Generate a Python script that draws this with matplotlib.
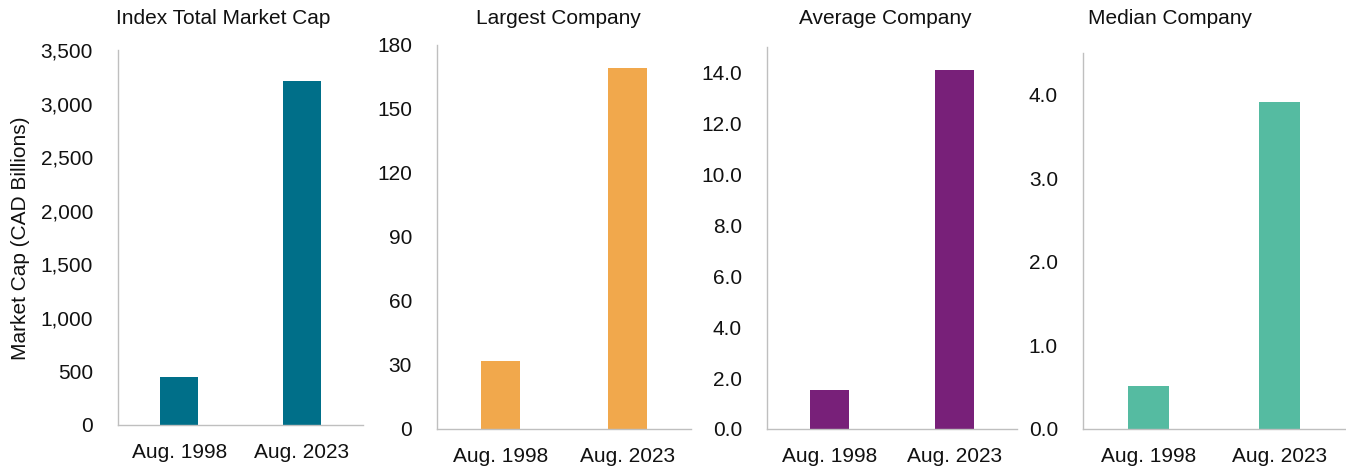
import matplotlib
matplotlib.use("Agg")
import matplotlib.pyplot as plt
from matplotlib.ticker import FuncFormatter

plt.rcParams['font.family'] = ['Liberation Sans', 'DejaVu Sans']

categories = ["Aug. 1998", "Aug. 2023"]
titles = ["Index Total Market Cap", "Largest Company", "Average Company", "Median Company"]
total_cap = [448, 3211]
largest = [32, 169.4]
average = [1.55, 14.1]
median = [0.52, 3.91]
series = [total_cap, largest, average, median]
colors = ["#006F89", "#F1A84C", "#782079", "#55BBA1"]
ylims = [3500, 180, 15, 4.5]
ysteps = [500, 30, 2, 1]
yfmts = ["{:,.0f}", "{:.0f}", "{:.1f}", "{:.1f}"]
ylabel = "Market Cap (CAD Billions)"

W, H = 1346, 468
fig = plt.figure(figsize=(W / 100, H / 100), dpi=100)

# axes boxes in pixels: left, right, bottom, top
boxes = [(118, 363, 425, 50), (437, 691, 429, 45), (767, 1017, 429, 47), (1083, 1345, 429, 53)]
title_x = [223, 558, 885, 1170]

FS = 15
for i in range(4):
    l, r, b, t = boxes[i]
    ax = fig.add_axes([l / W, (H - b) / H, (r - l) / W, (b - t) / H])
    ax.bar(range(len(categories)), series[i], width=0.31, color=colors[i])
    ax.set_xlim(-0.5, 1.5)
    ax.set_ylim(0, ylims[i])
    n = int(round((ylims[i] // ysteps[i])))
    ax.set_yticks([k * ysteps[i] for k in range(n + 1)])
    fmt = yfmts[i]
    ax.yaxis.set_major_formatter(FuncFormatter(lambda v, p, fmt=fmt: fmt.format(v)))
    ax.set_xticks(range(len(categories)))
    ax.set_xticklabels(categories)
    ax.tick_params(axis='y', length=0, pad=18, labelsize=FS, labelcolor='#111111')
    ax.tick_params(axis='x', length=0, pad=13, labelsize=FS, labelcolor='#111111')
    for s in ['top', 'right']:
        ax.spines[s].set_visible(False)
    for s in ['left', 'bottom']:
        ax.spines[s].set_color('#BFBFBF')
        ax.spines[s].set_linewidth(1.0)
    fig.text(title_x[i] / W, (H - 18) / H, titles[i], ha='center', va='center',
             fontsize=FS, color='#111111')
    if i == 0:
        fig.text(21 / W, (H - 238) / H, ylabel, rotation=90, ha='center', va='center',
                 fontsize=FS, color='#111111')

fig.savefig("out.png", dpi=100)
